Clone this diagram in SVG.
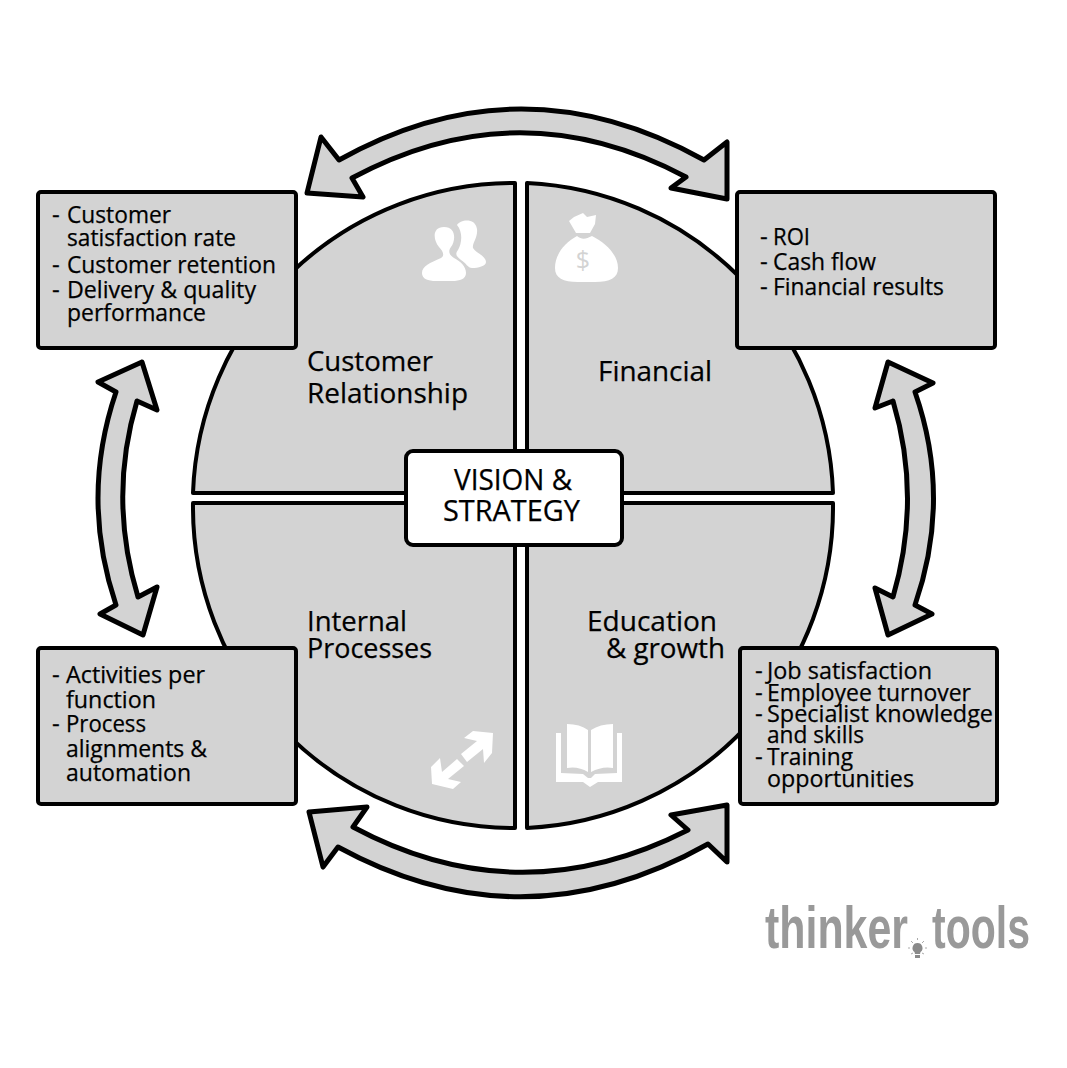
<svg xmlns="http://www.w3.org/2000/svg" width="1067" height="1068" viewBox="0 0 1067 1068">
<style>
.s{fill:#d3d3d3;stroke:#000;stroke-width:4;stroke-linejoin:round}
.a{fill:#d3d3d3;stroke:#000;stroke-width:5;stroke-linejoin:round}
.i{fill:#fff;stroke:none}
text{font-family:"Open Sans","Noto Sans","Liberation Sans",sans-serif;fill:#000;stroke:#000;stroke-width:.25}
.t{font-size:24px}
.h{font-size:28px}
.c{font-size:29px}
.l{font-family:"Liberation Sans",sans-serif;font-weight:700;font-size:60px;fill:#999;stroke:none}
</style>
<rect width="1067" height="1068" fill="#fff"/>
<g id="connectors">
<path class="a" d="M307,193L321,137L339,160Q521,58 704,160L727,142L727,199L671,188L686,177Q519,88 352,178L363,197Z"/>
<path class="a" d="M309,812L367,807L353,827Q519,916 688,830L671,815L727,805L727,862L708,844Q523,948 338,847L323,867Z"/>
<path class="a" d="M142,362L98,382L116,392Q80,498 116,605L100,614L143,635L157,587L138,597Q108,498 137,401L157,410Z"/>
<path class="a" d="M888,362L933,383L915,392Q952,498 915,605L932,614L888,635L875,588L893,597Q922,498 893,401L875,408Z"/>
</g>
<g id="quadrant-customer">
<path class="s" d="M193,493H515V183A321,321 0 0 0 193,493Z"/>
<path class="i" d="M422,273C422,266 430,263 441,258C445,256 443,251 439,247C433,240 432,227 444,227C456,227 456,240 451,247C448,251 449,255 454,258C460,261 466,266 466,273C466,279 460,281 452,281H436C428,281 422,279 422,273Z"/>
<path class="i" d="M457,225C460,220 475,217 477,229C478,238 472,243 473,248C476,253 486,256 486,262C486,266 478,268 472,268C468,268 466,263 461,260C456,256 455,254 458,250C462,243 463,232 457,225Z"/>
<text class="h" x="307" y="371" textLength="126" lengthAdjust="spacingAndGlyphs">Customer</text>
<text class="h" x="307" y="403" textLength="161" lengthAdjust="spacingAndGlyphs">Relationship</text>
</g>
<g id="quadrant-financial">
<path class="s" d="M527,183V493H833A321,321 0 0 0 527,183Z"/>
<path class="i" d="M569,221L574,217L583,213L587,217L596,215L595,224L590,233L576,233ZM577,236C582,240 586,239 592,236C606,243 618,255 618,268C618,278 610,282 595,282H578C563,282 555,278 555,268C555,255 564,243 577,236Z"/>
<text x="583" y="269" font-size="25" text-anchor="middle" style="fill:#d3d3d3;stroke:none">$</text>
<text class="h" x="598" y="381" textLength="114" lengthAdjust="spacingAndGlyphs">Financial</text>
</g>
<g id="quadrant-internal">
<path class="s" d="M193,503H515V828A321,321 0 0 1 193,503Z"/>
<path class="i" d="M473,731L493,733L492,753L484,763L483,749L467,762L461,754L477,741L464,738Z"/>
<path class="i" d="M440,758L431,767L432,784L453,789L461,782L448,779L464,766L457,759L442,772Z"/>
<text class="h" x="307" y="631" textLength="100" lengthAdjust="spacingAndGlyphs">Internal</text>
<text class="h" x="307" y="658" textLength="125" lengthAdjust="spacingAndGlyphs">Processes</text>
</g>
<g id="quadrant-education">
<path class="s" d="M527,828V503H833A321,321 0 0 1 527,828Z"/>
<path class="i" d="M567,724Q580,724 588,730V772Q578,766 567,768ZM591,730Q600,724 613,724V768Q602,766 591,772ZM556,733H561V773L583,774L588,778H591L595,774L617,773V733H622V782H598L590,787L583,782H556Z"/>
<text class="h" x="587" y="631" textLength="130" lengthAdjust="spacingAndGlyphs">Education</text>
<text class="h" x="606" y="658" textLength="119" lengthAdjust="spacingAndGlyphs">&amp; growth</text>
</g>
<g id="box-customer">
<rect class="s" x="38" y="192" width="258" height="156" rx="3"/>
<text class="t" x="52" y="223">-</text><text class="t" x="67" y="223" textLength="104" lengthAdjust="spacingAndGlyphs">Customer</text>
<text class="t" x="67" y="246" textLength="169" lengthAdjust="spacingAndGlyphs">satisfaction rate</text>
<text class="t" x="52" y="273">-</text><text class="t" x="67" y="273" textLength="209" lengthAdjust="spacingAndGlyphs">Customer retention</text>
<text class="t" x="52" y="298">-</text><text class="t" x="67" y="298" textLength="189" lengthAdjust="spacingAndGlyphs">Delivery &amp; quality</text>
<text class="t" x="67" y="321" textLength="139" lengthAdjust="spacingAndGlyphs">performance</text>
</g>
<g id="box-financial">
<rect class="s" x="737" y="192" width="258" height="156" rx="3"/>
<text class="t" x="760" y="245">-</text><text class="t" x="773" y="245" textLength="37" lengthAdjust="spacingAndGlyphs">ROI</text>
<text class="t" x="760" y="270">-</text><text class="t" x="773" y="270" textLength="103" lengthAdjust="spacingAndGlyphs">Cash flow</text>
<text class="t" x="760" y="295">-</text><text class="t" x="773" y="295" textLength="171" lengthAdjust="spacingAndGlyphs">Financial results</text>
</g>
<g id="box-internal">
<rect class="s" x="38" y="648" width="258" height="156" rx="3"/>
<text class="t" x="52" y="683">-</text><text class="t" x="66" y="683" textLength="139" lengthAdjust="spacingAndGlyphs">Activities per</text>
<text class="t" x="66" y="708" textLength="90" lengthAdjust="spacingAndGlyphs">function</text>
<text class="t" x="52" y="732">-</text><text class="t" x="66" y="732" textLength="80" lengthAdjust="spacingAndGlyphs">Process</text>
<text class="t" x="66" y="757" textLength="141" lengthAdjust="spacingAndGlyphs">alignments &amp;</text>
<text class="t" x="66" y="781" textLength="125" lengthAdjust="spacingAndGlyphs">automation</text>
</g>
<g id="box-education">
<rect class="s" x="740" y="648" width="257" height="156" rx="3"/>
<text class="t" x="755" y="679">-</text><text class="t" x="767" y="679" textLength="165" lengthAdjust="spacingAndGlyphs">Job satisfaction</text>
<text class="t" x="755" y="701">-</text><text class="t" x="767" y="701" textLength="204" lengthAdjust="spacingAndGlyphs">Employee turnover</text>
<text class="t" x="755" y="722">-</text><text class="t" x="767" y="722" textLength="226" lengthAdjust="spacingAndGlyphs">Specialist knowledge</text>
<text class="t" x="767" y="743" textLength="97" lengthAdjust="spacingAndGlyphs">and skills</text>
<text class="t" x="755" y="765">-</text><text class="t" x="767" y="765" textLength="86" lengthAdjust="spacingAndGlyphs">Training</text>
<text class="t" x="767" y="787" textLength="147" lengthAdjust="spacingAndGlyphs">opportunities</text>
</g>
<g id="center">
<rect x="406" y="451" width="216" height="94" rx="7" fill="#fff" stroke="#000" stroke-width="4"/>
<text class="c" x="454" y="490" textLength="118" lengthAdjust="spacingAndGlyphs">VISION &amp;</text>
<text class="c" x="443" y="521" textLength="137" lengthAdjust="spacingAndGlyphs">STRATEGY</text>
</g>
<g id="logo">
<text class="l" x="765" y="948" textLength="143" lengthAdjust="spacingAndGlyphs">thinker</text>
<text class="l" x="932" y="948" textLength="98" lengthAdjust="spacingAndGlyphs">tools</text>
<path fill="#8a8a8a" d="M917.500,943a5,5 0 0 1 3,9l-.5,2h-5l-.5,-2a5,5 0 0 1 3,-9ZM915,955h5v3h-5Z"/>
<path stroke="#aaa" stroke-width="1" fill="none" d="M908,948h2M925,948h2M911,941l2,2M924,941l-2,2M917.500,938v2M911,954l2,-1M924,954l-2,-1"/>
</g>
</svg>
